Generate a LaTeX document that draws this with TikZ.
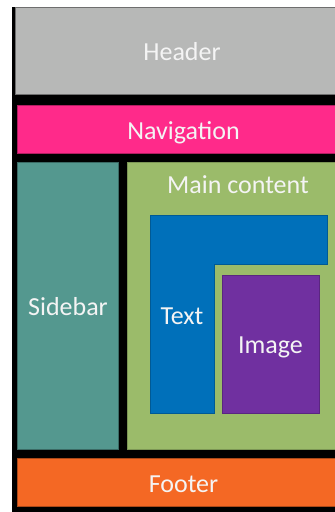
\documentclass[tikz,border=0pt]{standalone}
\usepackage{fontspec}
\setmainfont{Carlito}
\begin{document}
\begin{tikzpicture}[x=1pt,y=-1pt,
  region/.style={line width=0.6pt},
  lbl/.style={anchor=base,inner sep=0pt,text=labelwhite,font=\fontsize{26}{30}\selectfont}]
\definecolor{labelwhite}{RGB}{244,244,244}
\definecolor{headergray}{RGB}{183,184,183}
\definecolor{navpink}{RGB}{255,42,138}
\definecolor{sideteal}{RGB}{84,152,143}
\definecolor{maingreen}{RGB}{155,187,106}
\definecolor{textblue}{RGB}{0,112,186}
\definecolor{imgpurple}{RGB}{112,48,160}
\definecolor{footorange}{RGB}{244,104,36}
% page frame
\useasboundingbox (0,0) rectangle (335,512);
\fill[white] (0,0) rectangle (335,512);
\fill[black] (12,7) rectangle (335,512);
% page regions
\filldraw[region,fill=headergray,draw=headergray!60!black] (15,7) rectangle (336,94);
\filldraw[region,fill=navpink,draw=navpink!70!black] (17,105) rectangle (336,153);
\filldraw[region,fill=sideteal,draw=sideteal!70!black] (17,162) rectangle (118,449);
\filldraw[region,fill=maingreen,draw=maingreen!80!black] (127,162) rectangle (336,449);
\filldraw[region,fill=textblue,draw=textblue!80!black] (150,215) -- (327,215) -- (327,264) -- (214,264) -- (214,413) -- (150,413) -- cycle;
\filldraw[region,fill=imgpurple,draw=imgpurple!80!black] (222,275) rectangle (319,413);
\filldraw[region,fill=footorange,draw=footorange!70!black] (17,458) rectangle (336,506);
% labels
\node[lbl] (header) at (182,60) {Header};
\node[lbl] (nav) at (183.5,139) {Navigation};
\node[lbl] (main) at (238,193) {Main content};
\node[lbl] (side) at (68,315) {Sidebar};
\node[lbl] (text) at (182,324) {Text};
\node[lbl] (image) at (270.5,353) {Image};
\node[lbl] (footer) at (183.5,492) {Footer};
\end{tikzpicture}
\end{document}
